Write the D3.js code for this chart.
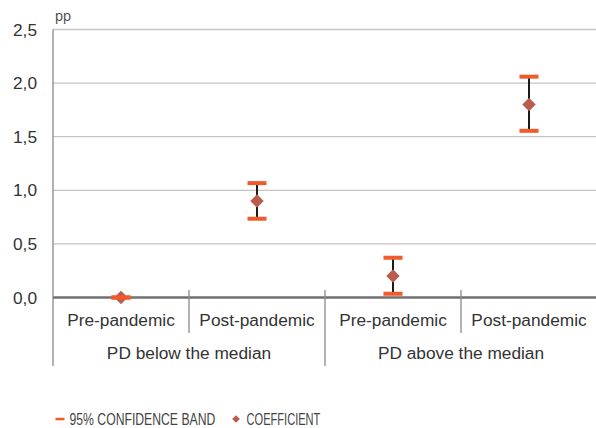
<!DOCTYPE html>
<html>
<head>
<meta charset="utf-8">
<script src="https://cdn.jsdelivr.net/npm/d3@7"></script>
<style>
  html, body { margin: 0; padding: 0; background: #fff; }
  svg { display: block; font-family: "Liberation Sans", Arial, Helvetica, sans-serif; }
</style>
</head>
<body>
<svg id="chart" width="596" height="428"></svg>
<script>
// Sub-periods within each group, and the two groups
const periods = ["Pre-pandemic", "Post-pandemic", "Pre-pandemic", "Post-pandemic"];
const groups = ["PD below the median", "PD above the median"];

// Point estimates and 95% confidence bounds (pp)
const coefficient = [0.00, 0.90, 0.20, 1.80];
const lowerBound  = [0.00, 0.735, 0.035, 1.555];
const upperBound  = [0.00, 1.067, 0.371, 2.06];

const yTicks = [0, 0.5, 1.0, 1.5, 2.0, 2.5];

// Legend entries
const legendLabels = ["95% CONFIDENCE BAND", "COEFFICIENT"];

(function () {
const svg = d3.select("#chart");
const left = 53, right = 597, plotTop = 29.5, plotBottom = 297.5;
const labelSize = 17.3;

const x = d3.scaleBand().domain(d3.range(periods.length)).range([left, right]).padding(0);
const y = d3.scaleLinear().domain([0, 2.5]).range([plotBottom, plotTop]);
const fmt = v => d3.format(".1f")(v).replace(".", ",");

// Horizontal gridlines
svg.append("g").selectAll("line").data(yTicks.filter(d => d > 0)).join("line")
  .attr("x1", left).attr("x2", 596)
  .attr("y1", d => y(d)).attr("y2", d => y(d))
  .attr("stroke", "#c4c4c4").attr("stroke-width", 1.3);

// Y axis
const yAxis = svg.append("g").attr("transform", `translate(${left},0)`)
  .call(d3.axisLeft(y).tickValues(yTicks).tickFormat(fmt).tickSize(0).tickPadding(16));
yAxis.select(".domain").remove();
yAxis.selectAll("text").attr("font-size", labelSize).attr("fill", "#333")
  .attr("font-family", "Liberation Sans, Arial, sans-serif");

// Left axis line extending down through the category rows
svg.append("line").attr("x1", left).attr("x2", left).attr("y1", plotTop).attr("y2", 366)
  .attr("stroke", "#8a8a8a").attr("stroke-width", 1.3);

// Unit label
svg.append("text").attr("x", 55).attr("y", 21).text("pp")
  .attr("font-size", 14.5).attr("fill", "#555");

// Baseline
svg.append("line").attr("x1", left).attr("x2", 596).attr("y1", y(0)).attr("y2", y(0))
  .attr("stroke", "#707070").attr("stroke-width", 2.5);

// Category separators: short between periods, long between groups
const seps = d3.range(1, periods.length + 1);
svg.append("g").selectAll("line").data(seps).join("line")
  .attr("x1", i => x(i - 1) + x.bandwidth()).attr("x2", i => x(i - 1) + x.bandwidth())
  .attr("y1", 290)
  .attr("y2", i => (i % 2 === 0 ? 366 : 333))
  .attr("stroke", "#8a8a8a").attr("stroke-width", 1.3);

// Period labels
svg.append("g").selectAll("text").data(periods).join("text")
  .attr("x", (d, i) => x(i) + x.bandwidth() / 2).attr("y", 326)
  .attr("text-anchor", "middle").attr("font-size", labelSize).attr("fill", "#333")
  .text(d => d);

// Group labels
svg.append("g").selectAll("text").data(groups).join("text")
  .attr("x", (d, g) => (x(g * 2) + x(g * 2 + 1) + x.bandwidth()) / 2).attr("y", 359)
  .attr("text-anchor", "middle").attr("font-size", labelSize).attr("fill", "#333")
  .text(d => d);

// Error bars
const idx = d3.range(periods.length);
const cx = i => x(i) + x.bandwidth() / 2;
svg.append("g").selectAll("line").data(idx).join("line")
  .attr("x1", cx).attr("x2", cx)
  .attr("y1", i => y(lowerBound[i])).attr("y2", i => y(upperBound[i]))
  .attr("stroke", "#1a1a1a").attr("stroke-width", 2);

// Coefficient markers (squares turned 45°)
const diamond = d3.symbol().type(d3.symbolSquare).size(90);
svg.append("g").selectAll("path").data(idx).join("path")
  .attr("transform", i => `translate(${cx(i)},${y(coefficient[i])}) rotate(45)`)
  .attr("d", diamond)
  .attr("fill", "#b95c4b");

// Confidence band caps
const capW = 19, capH = 4;
const caps = idx.flatMap(i => [{ i, v: lowerBound[i] }, { i, v: upperBound[i] }]);
svg.append("g").selectAll("rect").data(caps).join("rect")
  .attr("x", d => cx(d.i) - capW / 2).attr("y", d => y(d.v) - capH / 2)
  .attr("width", capW).attr("height", capH)
  .attr("fill", "#f15a2b");

// Legend: condensed caps, squeezed horizontally to a set width
const lg = svg.append("g");
lg.append("rect").attr("x", 55.5).attr("y", 417.8).attr("width", 9).attr("height", 2.5).attr("fill", "#f15a2b");
lg.append("path").attr("d", d3.symbol().type(d3.symbolSquare).size(30)())
  .attr("fill", "#b95c4b").attr("transform", "translate(236,419) rotate(45)");

const legendPos = [{ x: 69.5, w: 146 }, { x: 246.5, w: 74 }];
lg.selectAll("text").data(legendLabels).join("text")
  .attr("font-size", 16).attr("fill", "#444")
  .text(d => d)
  .each(function (d, i) {
    const natural = this.getComputedTextLength();
    const sx = legendPos[i].w / natural;
    d3.select(this).attr("transform", `translate(${legendPos[i].x},424.5) scale(${sx},1)`);
  });
})();
</script>
</body>
</html>
